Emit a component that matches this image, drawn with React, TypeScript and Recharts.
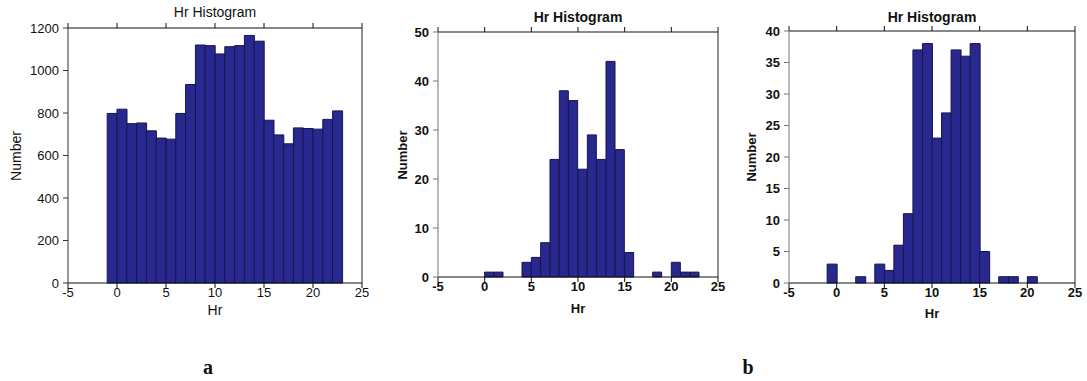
import { BarChart, Bar, XAxis, YAxis } from "recharts";

// Hourly histograms: left edge of each 1-hour bin and the count in it
const binStartsA = [-1, 0, 1, 2, 3, 4, 5, 6, 7, 8, 9, 10, 11, 12, 13, 14, 15, 16, 17, 18, 19, 20, 21, 22];
const countsA = [798, 818, 750, 753, 716, 682, 677, 798, 934, 1120, 1117, 1078, 1112, 1117, 1165, 1138, 766, 697, 655, 730, 727, 724, 770, 810];

const binStartsB = [0, 1, 4, 5, 6, 7, 8, 9, 10, 11, 12, 13, 14, 15, 18, 20, 21, 22];
const countsB = [1, 1, 3, 4, 7, 24, 38, 36, 22, 29, 24, 44, 26, 5, 1, 3, 1, 1];

const binStartsC = [-1, 2, 4, 5, 6, 7, 8, 9, 10, 11, 12, 13, 14, 15, 17, 18, 20];
const countsC = [3, 1, 3, 2, 6, 11, 37, 38, 23, 27, 37, 36, 38, 5, 1, 1, 1];

const hrTicks = [-5, 0, 5, 10, 15, 20, 25];
const yTicksA = [0, 200, 400, 600, 800, 1000, 1200];
const yTicksB = [0, 10, 20, 30, 40, 50];
const yTicksC = [0, 5, 10, 15, 20, 25, 30, 35, 40];

const FONT = '"Liberation Sans", Arial, sans-serif';
const BAR_FILL = "#28288e";
const BAR_EDGE = "#15154f";

type Row = { hr: number; count: number };

const toRows = (starts: number[], counts: number[]): Row[] =>
  starts.map((s, i) => ({ hr: s + 0.5, count: counts[i] }));

type PanelProps = {
  left: number;
  width: number;
  height: number;
  marginTop: number;
  yAxisWidth: number;
  rows: Row[];
  yTicks: number[];
  bold: boolean;
  leftAxisColor: string;
  titleY: number;
  numberX: number;
  hrY: number;
};

function Histogram(p: PanelProps) {
  const weight = p.bold ? 700 : 400;
  const tickStyle = { fill: "#111", fontSize: 13, fontWeight: weight, fontFamily: FONT };
  const yMax = p.yTicks[p.yTicks.length - 1];
  const plotLeft = p.left + p.yAxisWidth;
  const plotRight = p.left + p.width - 8;
  const plotTop = p.marginTop + 6;
  const plotBottom = p.height - 40;
  const labelStyle: React.CSSProperties = {
    position: "absolute",
    fontFamily: FONT,
    fontSize: p.bold ? 13 : 14,
    fontWeight: weight,
    color: "#111",
    whiteSpace: "nowrap",
    transform: "translate(-50%, -50%)",
  };
  return (
    <>
      <div style={{ position: "absolute", left: p.left, top: 0 }}>
        <BarChart
          width={p.width}
          height={p.height}
          data={p.rows}
          margin={{ top: p.marginTop, right: 2, bottom: 0, left: 0 }}
          barCategoryGap={0}
          barGap={0}
        >
          <XAxis
            dataKey="hr"
            type="number"
            domain={[-5, 25]}
            ticks={hrTicks}
            allowDataOverflow
            height={40}
            tickSize={5}
            tickMargin={0}
            stroke="#111"
            tick={tickStyle}
            interval={0}
          />
          <XAxis
            xAxisId="top"
            orientation="top"
            dataKey="hr"
            type="number"
            domain={[-5, 25]}
            ticks={hrTicks}
            height={6}
            tickSize={5}
            stroke="#111"
            tickFormatter={() => ""}
          />
          <YAxis
            type="number"
            domain={[0, yMax]}
            ticks={p.yTicks}
            width={p.yAxisWidth}
            tickSize={5}
            tickMargin={4}
            stroke={p.leftAxisColor}
            tick={tickStyle}
            interval={0}
          />
          <YAxis
            yAxisId="right"
            orientation="right"
            type="number"
            domain={[0, yMax]}
            ticks={p.yTicks}
            width={6}
            tickSize={5}
            stroke="#222"
            tickFormatter={() => ""}
          />
          <Bar dataKey="count" fill={BAR_FILL} stroke={BAR_EDGE} strokeWidth={1} isAnimationActive={false} />
        </BarChart>
      </div>
      <div style={{ ...labelStyle, left: (plotLeft + plotRight) / 2, top: p.titleY, fontSize: 14 }}>Hr Histogram</div>
      <div
        style={{
          ...labelStyle,
          left: p.numberX,
          top: (plotTop + plotBottom) / 2,
          transform: "translate(-50%, -50%) rotate(-90deg)",
        }}
      >
        Number
      </div>
      <div style={{ ...labelStyle, left: (plotLeft + plotRight) / 2, top: p.hrY }}>Hr</div>
    </>
  );
}

export default function App() {
  const caption: React.CSSProperties = {
    position: "absolute",
    top: 367,
    transform: "translate(-50%, -50%)",
    fontFamily: '"Liberation Serif", "Times New Roman", serif',
    fontWeight: 700,
    fontSize: 20,
    color: "#111",
  };
  return (
    <div style={{ position: "absolute", left: 0, top: 0, width: 1087, height: 381, background: "#fff" }}>
      <Histogram
        left={0}
        width={370}
        height={323}
        marginTop={22}
        yAxisWidth={68}
        rows={toRows(binStartsA, countsA)}
        yTicks={yTicksA}
        bold={false}
        leftAxisColor="#333"
        titleY={12}
        numberX={16}
        hrY={310}
      />
      <Histogram
        left={370}
        width={356}
        height={317}
        marginTop={26}
        yAxisWidth={68}
        rows={toRows(binStartsB, countsB)}
        yTicks={yTicksB}
        bold={true}
        leftAxisColor="#777"
        titleY={17}
        numberX={402}
        hrY={308}
      />
      <Histogram
        left={730}
        width={353}
        height={323}
        marginTop={25}
        yAxisWidth={59}
        rows={toRows(binStartsC, countsC)}
        yTicks={yTicksC}
        bold={true}
        leftAxisColor="#777"
        titleY={17}
        numberX={751}
        hrY={313}
      />
      <div style={{ ...caption, left: 208 }}>a</div>
      <div style={{ ...caption, left: 748 }}>b</div>
    </div>
  );
}
